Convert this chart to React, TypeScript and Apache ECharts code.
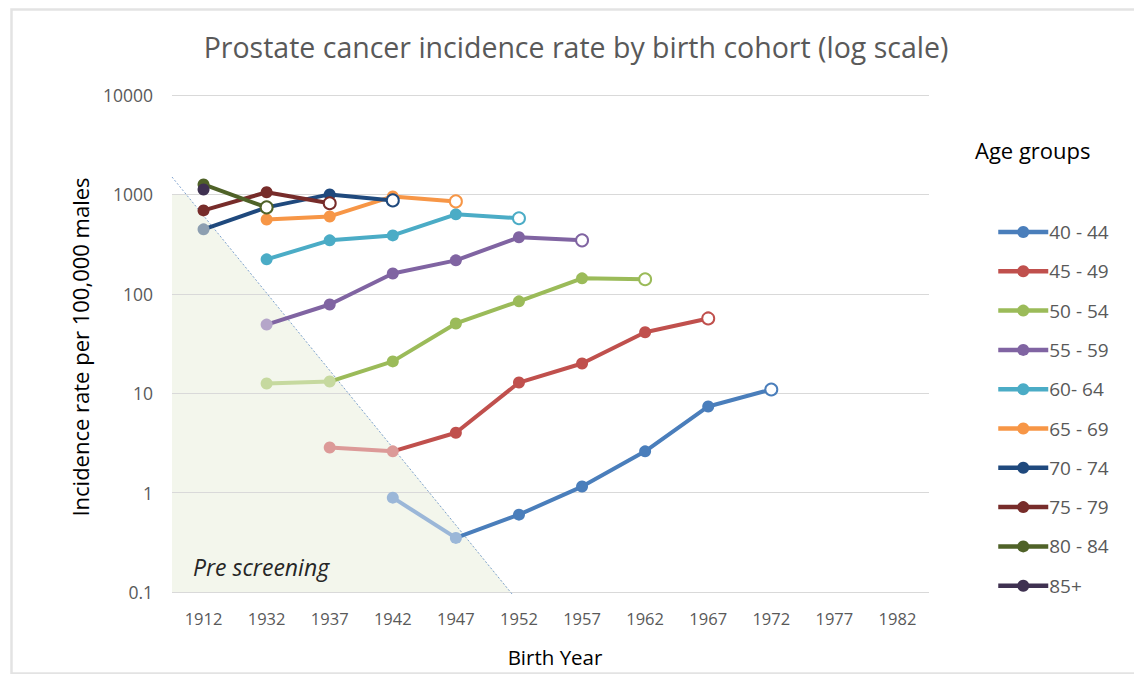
import React, { useEffect, useRef } from "react";
import * as echarts from "echarts";

const categories = ["1912", "1932", "1937", "1942", "1947", "1952", "1957", "1962", "1967", "1972", "1977", "1982"];
const yTicks = [0.1, 1, 10, 100, 1000, 10000];

const ageGroups = ["40 - 44", "45 - 49", "50 - 54", "55 - 59", "60- 64", "65 - 69", "70 - 74", "75 - 79", "80 - 84", "85+"];
const s4044 = [null, null, null, 0.89, 0.35, 0.6, 1.15, 2.6, 7.35, 10.9, null, null];
const s4549 = [null, null, 2.84, 2.6, 4.0, 12.8, 19.9, 41, 56.5, null, null, null];
const s5054 = [null, 12.5, 13.1, 20.9, 50.3, 84, 143, 140, null, null, null, null];
const s5559 = [null, 49, 78, 160, 217, 370, 345, null, null, null, null, null];
const s6064 = [null, 222, 345, 387, 630, 575, null, null, null, null, null, null];
const s6569 = [null, 560, 600, 955, 850, null, null, null, null, null, null, null];
const s7074 = [445, 740, 1000, 870, null, null, null, null, null, null, null, null];
const s7579 = [690, 1050, 815, null, null, null, null, null, null, null, null, null];
const s8084 = [1260, 740, null, null, null, null, null, null, null, null, null, null];
const s85 = [1120, null, null, null, null, null, null, null, null, null, null, null];
const seriesValues = [s4044, s4549, s5054, s5559, s6064, s6569, s7074, s7579, s8084, s85];
// index where the pre-screening part ends (-1: none)
const preEnd = [4, 3, 2, 1, -1, -1, 0, -1, -1, -1];

const colors = ["#4a7ebb", "#c0504d", "#9bbb59", "#8064a2", "#4bacc6", "#f79646", "#1f497d", "#772c2a", "#4f6228", "#3f3151"];
const fadedColors = ["#9bb7d8", "#dc9a98", "#c6d99f", "#b5a6c9", "#94d0e0", "#fbc8a0", "#8d9fb1", "#c09694", "#a7b193", "#9f98a8"];

const FONT = "'Open Sans', sans-serif";

export default function App() {
  const ref = useRef<HTMLDivElement>(null);
  useEffect(() => {
    document.body.style.margin = "0";
    const chart = echarts.init(ref.current!, null, { renderer: "svg" });
    const series: any[] = [];
    seriesValues.forEach((vals, i) => {
      const pe = preEnd[i];
      let lastIdx = -1;
      let count = 0;
      vals.forEach((v, j) => { if (v != null) { lastIdx = j; count++; } });
      const main = vals.map((v, j) => {
        if (v == null) return null;
        if (pe >= 0 && j < pe) return null;
        if (pe >= 0 && j === pe) return { value: v, symbol: "none" };
        if (j === lastIdx && count > 1)
          return { value: v, symbol: "emptyCircle", symbolSize: 12, itemStyle: { color: colors[i], borderColor: colors[i], borderWidth: 2.4 } };
        return v;
      });
      series.push({
        name: ageGroups[i], type: "line", data: main, symbol: "circle", symbolSize: 12,
        lineStyle: { width: 4, color: colors[i] }, itemStyle: { color: colors[i] },
        connectNulls: false, z: 3 + i,
      });
      if (pe >= 0) {
        const pre = vals.map((v, j) => (j <= pe ? v : null));
        series.push({
          name: ageGroups[i] + " pre", type: "line", data: pre, symbol: "circle", symbolSize: 12,
          lineStyle: { width: 4, color: fadedColors[i] }, itemStyle: { color: fadedColors[i] },
          connectNulls: false, z: 3 + i,
        });
      }
    });

    chart.setOption({
      animation: false,
      backgroundColor: "#fff",
      textStyle: { fontFamily: FONT },
      title: {
        text: "Prostate cancer incidence rate by birth cohort (log scale)",
        left: 571, top: 27, textAlign: "center",
        textStyle: { fontFamily: FONT, fontSize: 28.5, fontWeight: "normal", color: "#595959" },
      },
      grid: { left: 172, right: 205, top: 95, bottom: 82, containLabel: false },
      xAxis: {
        type: "category", data: categories, boundaryGap: true,
        axisLine: { show: false }, axisTick: { show: false },
        axisLabel: { color: "#595959", fontSize: 16.5, margin: 18, fontFamily: FONT },
        splitLine: { show: false },
      },
      yAxis: {
        type: "log", logBase: 10, min: 0.1, max: 10000,
        axisLine: { show: false }, axisTick: { show: false },
        axisLabel: {
          color: "#595959", fontSize: 17.5, margin: 19, fontFamily: FONT,
          formatter: (v: number) => {
            const t = yTicks.find((x) => Math.abs(x - v) / x < 1e-6);
            return t != null ? String(t) : "";
          },
        },
        splitLine: { show: true, lineStyle: { color: "#d9d9d9", width: 1 } },
      },
      legend: {
        orient: "vertical", left: 991, top: 217, itemGap: 19.3, itemWidth: 50, itemHeight: 15,
        data: ageGroups,
        lineStyle: { width: 4.5 },
        textStyle: { color: "#595959", fontSize: 19, lineHeight: 20, fontFamily: FONT, padding: [0, 0, 0, -4] },
      },
      graphic: [
        { type: "rect", left: 9, top: 7, shape: { width: 1200, height: 664 }, style: { fill: "none", stroke: "#e3e3e3", lineWidth: 2.5 }, z: -10 },
        { type: "polygon", shape: { points: [[172, 195], [186.7, 195], [511, 592], [172, 592]] }, style: { fill: "#f3f6ec" }, z: -5 },
        { type: "line", shape: { x1: 172, y1: 177, x2: 512, y2: 594 }, style: { stroke: "#7fa3cf", lineWidth: 1, lineDash: [2, 2] }, z: 1 },
        { type: "text", x: 193, y: 567, style: { text: "Pre screening", fontFamily: FONT, fontStyle: "italic", fontSize: 23, fill: "#262626", verticalAlign: "middle" }, z: 2 },
        { type: "text", x: 975, y: 150, style: { text: "Age groups", fontFamily: FONT, fontSize: 22, fill: "#000", verticalAlign: "middle" } },
        { type: "text", x: 80, y: 347, rotation: Math.PI / 2, style: { text: "Incidence rate per 100,000 males", fontFamily: FONT, fontSize: 22, fill: "#000", align: "center", verticalAlign: "middle" } },
        { type: "text", x: 555, y: 657, style: { text: "Birth Year", fontFamily: FONT, fontSize: 20.5, fill: "#000", align: "center", verticalAlign: "middle" } },
      ],
      series,
    });
    return () => chart.dispose();
  }, []);
  return <div ref={ref} style={{ width: 1134, height: 674, position: "absolute", left: 0, top: 0 }} />;
}
